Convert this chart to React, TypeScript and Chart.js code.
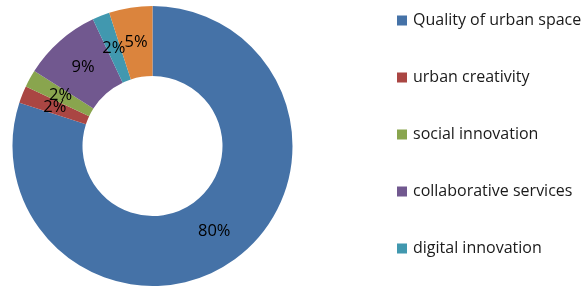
import React, { useEffect, useRef } from "react";
import { Chart, registerables } from "chart.js";

Chart.register(...registerables);

const categories = [
  "Quality of urban space",
  "urban creativity",
  "social innovation",
  "collaborative services",
  "digital innovation",
  "other",
];
const values = [80, 2, 2, 9, 2, 5];
const percentLabels = ["80%", "2%", "2%", "9%", "2%", "5%"];
const colors = ["#4572A7", "#AA4643", "#89A54E", "#71588F", "#4198AF", "#DB843D"];

const labelPlugin = {
  id: "sliceLabels",
  afterDatasetsDraw(chart: any) {
    const ctx = chart.ctx;
    const meta = chart.getDatasetMeta(0);
    ctx.save();
    ctx.font = '16.5px "Open Sans"';
    ctx.fillStyle = "#000";
    ctx.textAlign = "center";
    ctx.textBaseline = "middle";
    meta.data.forEach((arc: any, i: number) => {
      const p = arc.tooltipPosition(false);
      ctx.fillText(percentLabels[i], p.x, p.y);
    });
    ctx.restore();
  },
};

const legendPlugin = {
  id: "sideLegend",
  afterDraw(chart: any) {
    const ctx = chart.ctx;
    ctx.save();
    ctx.font = '16px "Open Sans"';
    ctx.textBaseline = "middle";
    ctx.textAlign = "left";
    const x0 = 397;
    const y0 = 20.5;
    const step = 57;
    chart.data.labels.forEach((lab: string, i: number) => {
      const y = y0 + i * step;
      ctx.fillStyle = chart.data.datasets[0].backgroundColor[i];
      ctx.fillRect(x0, y - 5, 10, 10);
      ctx.fillStyle = "#1a1a1a";
      ctx.fillText(lab, x0 + 16, y);
    });
    ctx.restore();
  },
};

export default function App() {
  const ref = useRef<HTMLCanvasElement>(null);
  useEffect(() => {
    if (!ref.current) return;
    const chart = new Chart(ref.current, {
      type: "doughnut",
      data: {
        labels: categories,
        datasets: [
          {
            data: values,
            backgroundColor: colors,
            borderWidth: 0,
          },
        ],
      },
      options: {
        animation: false,
        responsive: false,
        cutout: "50%",
        layout: { padding: { left: 12.5, right: 293.5, top: 6, bottom: 1 } },
        plugins: {
          legend: { display: false },
          tooltip: { enabled: false },
        },
      },
      plugins: [labelPlugin, legendPlugin],
    });
    return () => chart.destroy();
  }, []);
  return (
    <div style={{ position: "absolute", left: 0, top: 0, width: 586, height: 287, background: "#fff" }}>
      <canvas ref={ref} width={586} height={287} style={{ display: "block" }} />
    </div>
  );
}
